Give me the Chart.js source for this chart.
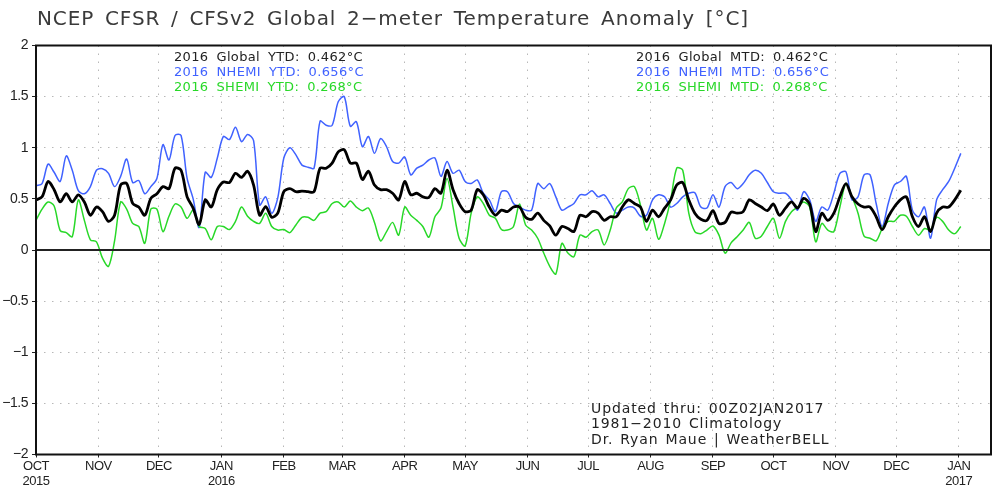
<!DOCTYPE html>
<html>
<head>
<meta charset="utf-8">
<title>Global 2-meter Temperature Anomaly</title>
<script src="https://cdn.jsdelivr.net/npm/chart.js@4/dist/chart.umd.js"></script>
<style>
  html, body { margin: 0; padding: 0; background: #fff; }
  #wrap { position: relative; width: 1000px; height: 500px; }
</style>
</head>
<body>
<div id="wrap"><canvas id="chart" width="1000" height="500"></canvas></div>
<script>
// values, one sample every 3 days from 1 Oct 2015
const SAMPLE_STEP = 3;

const globalValues = [
  .49,.52,.67,.59,.47,.55,.47,.54,.47,.34,.42,.375,.28,.34,.635,.65,.455,.42,.34,.505,.55,.62,.60,.80,.78,
  .52,.41,.25,.49,.42,.59,.665,.66,.75,.71,.77,.635,.34,.425,.32,.36,.57,.60,.57,.575,.57,.57,.80,.80,.85,.96,
  .98,.85,.85,.69,.77,.635,.59,.59,.555,.49,.67,.54,.555,.52,.515,.60,.555,.78,.59,.455,.375,.39,.59,.54,.42,
  .34,.39,.375,.42,.42,.32,.30,.36,.29,.235,.145,.23,.21,.18,.34,.325,.375,.36,.29,.325,.325,.42,.49,.455,.42,
  .28,.39,.325,.41,.49,
  .635,.66,.49,.36,.30,.29,.385,.26,.27,.37,.36,.375,.49,.455,.42,.385,.45,.34,.41,.47,.41,.505,.45,.18,.36,
  .29,.36,.52,.65,.52,.45,.42,.42,.325,.20,.325,.42,.49,.52,.325,.23,.325,.18,.36,.42,.42,.49,.585
];
const nhemiValues = [
  .63,.65,.84,.76,.67,.92,.78,.58,.55,.62,.78,.795,.75,.62,.72,.89,.66,.68,.55,.62,.70,1.03,.88,1.12,1.12,
  .70,.50,.22,.76,.71,.90,1.11,1.08,1.20,1.06,1.13,1.07,.44,.52,.36,.51,.90,1.0,.93,.83,.81,.80,1.26,1.22,1.22,1.45,
  1.5,1.21,1.255,1.01,1.11,.945,1.09,1.01,.865,.85,.91,.735,.80,.83,.88,.90,.72,.865,.75,.78,.67,.65,.685,.555,.49,
  .375,.57,.57,.455,.42,.39,.39,.65,.60,.65,.52,.39,.42,.455,.54,.54,.58,.52,.54,.455,.36,.39,.42,.41,.33,
  .34,.49,.54,.52,.42,
  .455,.52,.555,.56,.42,.41,.54,.42,.62,.66,.60,.65,.735,.78,.75,.66,.57,.555,.555,.49,.39,.57,.49,.28,.42,
  .39,.555,.75,.765,.49,.52,.735,.735,.455,.23,.455,.635,.67,.72,.39,.325,.42,.115,.49,.59,.67,.80,.945
];
const shemiValues = [
  .29,.40,.47,.43,.19,.17,.13,.49,.29,.10,.08,-.08,-.16,.09,.47,.40,.26,.23,.065,.40,.40,.18,.33,.45,.42,
  .31,.39,.23,.21,.10,.23,.23,.20,.28,.42,.33,.28,.26,.36,.23,.195,.20,.17,.245,.32,.32,.29,.36,.375,.455,.47,
  .42,.48,.42,.385,.41,.27,.09,.18,.27,.145,.42,.34,.29,.23,.125,.325,.41,.70,.42,.115,.04,.36,.52,.455,.34,
  .31,.20,.195,.23,.45,.245,.195,.115,-.03,-.16,-.235,.065,-.03,-.065,.145,.125,.18,.195,.05,.195,.41,.47,.60,.62,.44,
  .195,.31,.105,.26,.49,
  .80,.78,.36,.18,.16,.195,.235,.145,-.03,.07,.13,.195,.27,.115,.135,.23,.31,.115,.28,.375,.42,.47,.42,.08,.26,
  .195,.18,.42,.65,.52,.36,.135,.115,.09,.21,.28,.28,.34,.33,.23,.145,.21,.195,.32,.28,.195,.16,.23
];

const monthDays = [0, 31, 61, 92, 123, 152, 183, 213, 244, 274, 305, 336, 366, 397, 427, 458];
const monthLabels = ['OCT', 'NOV', 'DEC', 'JAN', 'FEB', 'MAR', 'APR', 'MAY', 'JUN', 'JUL', 'AUG', 'SEP', 'OCT', 'NOV', 'DEC', 'JAN'];
const yearLabels = { 0: '2015', 92: '2016', 458: '2017' };
const yTicks = [-2, -1.5, -1, -0.5, 0, 0.5, 1, 1.5, 2];
const xMax = 474;

const titleText = 'NCEP CFSR / CFSv2 Global 2\u2212meter Temperature Anomaly [\u00B0C]';
const ytdLines = ['2016 Global YTD: 0.462\u00B0C', '2016 NHEMI YTD: 0.656\u00B0C', '2016 SHEMI YTD: 0.268\u00B0C'];
const mtdLines = ['2016 Global MTD: 0.462\u00B0C', '2016 NHEMI MTD: 0.656\u00B0C', '2016 SHEMI MTD: 0.268\u00B0C'];
const creditLines = ['Updated thru: 00Z02JAN2017', '1981\u22122010 Climatology', 'Dr. Ryan Maue | WeatherBELL'];

const BLACK = '#000000';
const BLUE = '#4062ff';
const GREEN = '#28d828';
const TEXT_DARK = '#222222';
const lineColors = [BLACK, BLUE, GREEN];

function toPoints(values) {
  return values.map((v, i) => ({ x: i * SAMPLE_STEP, y: v }));
}

function drawText(ctx, text, x, y, font, spacing, wordGap, color) {
  ctx.font = font;
  ctx.letterSpacing = spacing;
  ctx.wordSpacing = wordGap;
  ctx.fillStyle = color;
  ctx.textAlign = 'left';
  ctx.textBaseline = 'middle';
  ctx.fillText(text, x, y);
}

// frame and the text blocks, month labels get squeezed a little like the original
const decorations = {
  id: 'decorations',
  beforeDraw(chart) {
    chart.ctx.letterSpacing = '-0.5px';
  },
  afterDatasetsDraw(chart) {
    const { ctx, chartArea: a } = chart;
    ctx.save();
    ctx.strokeStyle = '#111111';
    ctx.lineWidth = 2;
    ctx.strokeRect(a.left, a.top, a.right - a.left, a.bottom - a.top);

    drawText(ctx, titleText, 37, 20, '20px "DejaVu Sans"', '0.9px', '3.5px', '#3a3a3a');
    const blockFont = '13px "DejaVu Sans"';
    ytdLines.forEach((t, i) => drawText(ctx, t, 174, 57.5 + i * 15.3, blockFont, '0.35px', '3.5px', i === 0 ? TEXT_DARK : lineColors[i]));
    mtdLines.forEach((t, i) => drawText(ctx, t, 636, 57.5 + i * 15.3, blockFont, '0.35px', '3.5px', i === 0 ? TEXT_DARK : lineColors[i]));
    creditLines.forEach((t, i) => drawText(ctx, t, 591, 409 + i * 15.5, '14px "DejaVu Sans"', '0.9px', '1.5px', TEXT_DARK));
    ctx.restore();
  }
};

new Chart(document.getElementById('chart'), {
  type: 'line',
  data: {
    datasets: [
      { label: 'Global', data: toPoints(globalValues), borderColor: BLACK, borderWidth: 2.8 },
      { label: 'Zero', data: [{ x: 0, y: 0 }, { x: xMax, y: 0 }], borderColor: '#222222', borderWidth: 2, tension: 0 },
      { label: 'SHEMI', data: toPoints(shemiValues), borderColor: GREEN, borderWidth: 1.5 },
      { label: 'NHEMI', data: toPoints(nhemiValues), borderColor: BLUE, borderWidth: 1.5 }
    ]
  },
  options: {
    responsive: false,
    animation: false,
    parsing: false,
    layout: { padding: { top: 45.5, right: 9, left: 0, bottom: 0 } },
    elements: {
      point: { radius: 0 },
      line: { tension: 0.3, cubicInterpolationMode: 'default' }
    },
    plugins: {
      legend: { display: false },
      tooltip: { enabled: false }
    },
    scales: {
      x: {
        type: 'linear',
        min: 0,
        max: xMax,
        afterFit: s => { s.height = 45.5; },
        afterBuildTicks: s => { s.ticks = monthDays.map(v => ({ value: v })); },
        grid: { color: '#b8b8b8', lineWidth: 1, tickLength: 3, tickColor: '#222222', tickBorderDash: [] },
        border: { display: false, dash: [1.5, 6.5] },
        ticks: {
          autoSkip: false,
          maxRotation: 0,
          padding: 2,
          color: TEXT_DARK,
          font: { family: '"Liberation Sans"', size: 13, lineHeight: 1.1 },
          callback: v => {
            const month = monthLabels[monthDays.indexOf(v)];
            return yearLabels[v] ? [month, yearLabels[v]] : month;
          }
        }
      },
      y: {
        min: -2,
        max: 2,
        afterFit: s => { s.width = 36; },
        afterBuildTicks: s => { s.ticks = yTicks.map(v => ({ value: v })); },
        grid: { color: '#b8b8b8', lineWidth: 1, tickLength: 4, tickColor: '#222222', tickBorderDash: [] },
        border: { display: false, dash: [1.5, 6.5] },
        ticks: {
          padding: 4,
          color: TEXT_DARK,
          font: { family: '"Liberation Sans"', size: 14 },
          callback: v => String(v).replace('-', '\u2212')
        }
      }
    }
  },
  plugins: [decorations]
});
</script>
</body>
</html>
